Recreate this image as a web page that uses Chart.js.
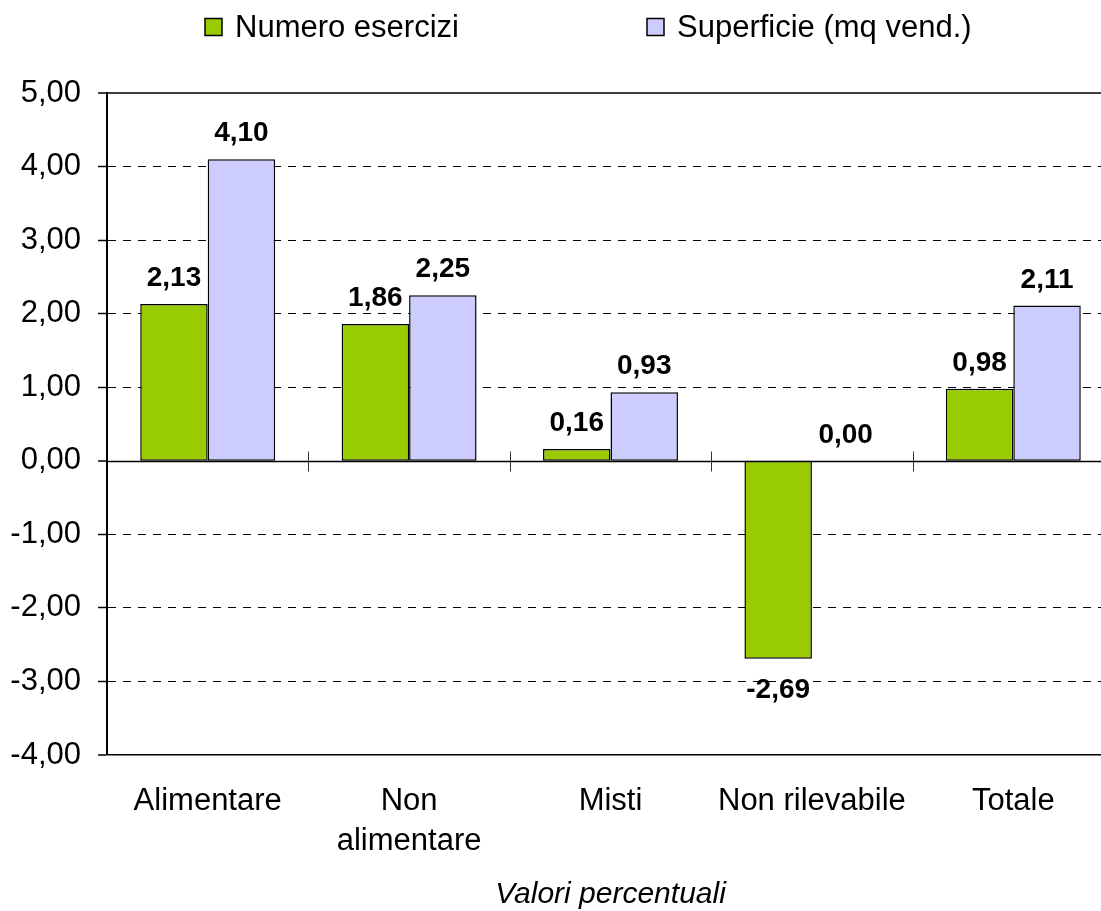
<!DOCTYPE html>
<html>
<head>
<meta charset="utf-8">
<script src="https://cdn.jsdelivr.net/npm/chart.js@4/dist/chart.umd.min.js"></script>
<style>
  html, body { margin: 0; padding: 0; background: #fff; overflow: hidden; }
  #wrap { width: 1101px; height: 911px; overflow: hidden; }
</style>
</head>
<body>
<div id="wrap"><canvas id="chart" width="1125" height="911"></canvas></div>
<script>
// values
var categories = ['Alimentare', ['Non', 'alimentare'], 'Misti', 'Non rilevabile', 'Totale'];
var numeroEsercizi = [2.13, 1.86, 0.16, -2.69, 0.98];
var superficie = [4.10, 2.25, 0.93, 0.00, 2.11];
var yMin = -4, yMax = 5;

var FONT = "'Liberation Sans', Arial, sans-serif";

function fmt(v) {
    return v.toFixed(2).replace('.', ',');
}

// solid zero line, top frame and category ticks on the zero line
var framePlugin = {
    id: 'frame',
    afterDatasetsDraw: function(chart) {
        var ctx = chart.ctx, a = chart.chartArea;
        var y = chart.scales.y, x = chart.scales.x;
        var y0 = Math.round(y.getPixelForValue(0)) + 0.5;
        ctx.save();
        ctx.strokeStyle = '#000';
        ctx.lineWidth = 1.5;
        ctx.beginPath();
        ctx.moveTo(a.left, y0);
        ctx.lineTo(a.right, y0);
        ctx.stroke();
        ctx.beginPath();
        ctx.moveTo(a.left, y.getPixelForValue(yMax));
        ctx.lineTo(a.right, y.getPixelForValue(yMax));
        ctx.lineTo(a.right, y.getPixelForValue(yMin));
        ctx.stroke();
        ctx.lineWidth = 1;
        ctx.strokeStyle = '#333';
        for (var i = 1; i < categories.length; i++) {
            var px = Math.round((x.getPixelForValue(i - 1) + x.getPixelForValue(i)) / 2) + 0.5;
            ctx.beginPath();
            ctx.moveTo(px, y0 - 10);
            ctx.lineTo(px, y0 + 10);
            ctx.stroke();
        }
        ctx.restore();
    }
};

// value labels above / below each bar
var valuePlugin = {
    id: 'values',
    afterDatasetsDraw: function(chart) {
        var ctx = chart.ctx;
        ctx.save();
        ctx.font = 'bold 28px ' + FONT;
        ctx.fillStyle = '#000';
        ctx.textAlign = 'center';
        chart.data.datasets.forEach(function(ds, di) {
            chart.getDatasetMeta(di).data.forEach(function(bar, i) {
                var v = ds.data[i];
                if (v >= 0) {
                    ctx.textBaseline = 'alphabetic';
                    ctx.fillText(fmt(v), bar.x, bar.y - 18);
                } else {
                    ctx.textBaseline = 'top';
                    ctx.fillText(fmt(v), bar.x, bar.y + 18);
                }
            });
        });
        ctx.restore();
    }
};

// legend drawn across the top
var legendPlugin = {
    id: 'topLegend',
    afterDraw: function(chart) {
        var ctx = chart.ctx;
        var starts = [205, 647];
        ctx.save();
        ctx.font = '31px ' + FONT;
        ctx.textBaseline = 'middle';
        ctx.textAlign = 'left';
        chart.data.datasets.forEach(function(ds, i) {
            var bx = starts[i];
            ctx.fillStyle = ds.backgroundColor;
            ctx.fillRect(bx, 18.5, 17, 17);
            ctx.strokeStyle = '#000';
            ctx.lineWidth = 1.5;
            ctx.strokeRect(bx, 18.5, 17, 17);
            ctx.fillStyle = '#000';
            ctx.fillText(ds.label, bx + 30, 28);
        });
        ctx.restore();
    }
};

var noLine = function(c) {
    var v = c.tick && c.tick.value;
    return (v === 0 || v === yMin || v === yMax) ? 0 : 1;
};

new Chart(document.getElementById('chart'), {
    type: 'bar',
    data: {
        labels: categories,
        datasets: [{
            label: 'Numero esercizi',
            data: numeroEsercizi,
            backgroundColor: '#99CC00',
            borderColor: '#000',
            borderWidth: 1.5,
            borderSkipped: false
        }, {
            label: 'Superficie (mq vend.)',
            data: superficie,
            backgroundColor: '#CCCCFF',
            borderColor: '#000',
            borderWidth: 1.5,
            borderSkipped: false
        }]
    },
    options: {
        responsive: false,
        animation: false,
        events: [],
        layout: { padding: { top: 93, left: 11, right: 11, bottom: 0 } },
        datasets: {
            bar: { categoryPercentage: 0.67, barPercentage: 1.0 }
        },
        plugins: {
            legend: { display: false },
            tooltip: { enabled: false }
        },
        scales: {
            x: {
                afterFit: function(scale) { scale.height = 156; },
                grid: { display: false, drawTicks: false },
                border: { display: true, color: '#000', width: 1.5 },
                ticks: {
                    padding: 26,
                    color: '#000',
                    maxRotation: 0,
                    autoSkip: false,
                    font: { family: FONT, size: 31, lineHeight: 1.3 }
                },
                title: {
                    display: true,
                    text: 'Valori percentuali',
                    color: '#000',
                    font: { family: FONT, size: 30, style: 'italic', lineHeight: 1.0 },
                    padding: { top: 0, bottom: 1 }
                }
            },
            y: {
                min: yMin,
                max: yMax,
                afterFit: function(scale) { scale.width = 96; },
                ticks: {
                    stepSize: 1,
                    padding: 17,
                    color: '#000',
                    font: { family: FONT, size: 31 },
                    callback: function(v) { return fmt(v); }
                },
                grid: {
                    color: '#000',
                    lineWidth: noLine,
                    tickLength: 9,
                    tickWidth: 1.5,
                    tickColor: '#000',
                    tickBorderDash: []
                },
                border: { display: true, color: '#000', width: 2, dash: [8, 7] }
            }
        }
    },
    plugins: [framePlugin, valuePlugin, legendPlugin]
});
</script>
</body>
</html>
